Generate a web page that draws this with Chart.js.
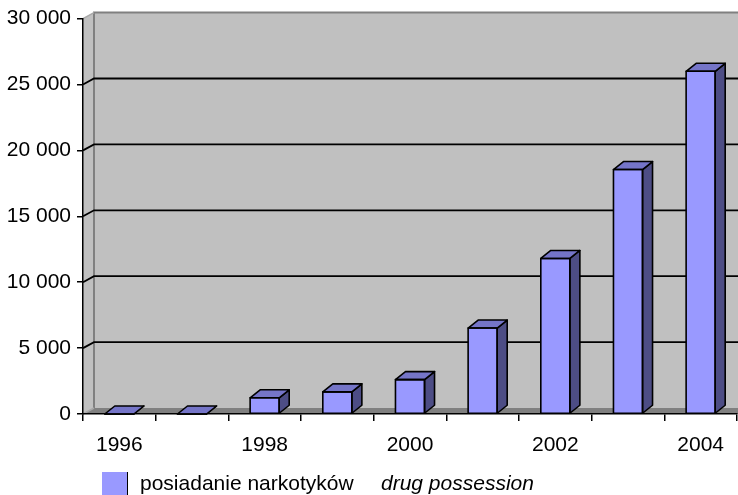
<!DOCTYPE html>
<html>
<head>
<meta charset="utf-8">
<script src="https://cdn.jsdelivr.net/npm/chart.js@4/dist/chart.umd.min.js"></script>
<style>
  html, body { margin: 0; padding: 0; background: #fff; }
  #wrap { position: relative; width: 738px; height: 495px; overflow: hidden; }
  #c { position: absolute; left: 0; top: 0; }
  #legend { position: absolute; left: 102px; top: 472px; height: 23px; font-family: "Liberation Sans", Arial, sans-serif; font-size: 21px; line-height: 21px; color: #000; white-space: nowrap; }
  #legend .sw { position: absolute; left: 0; top: 0; width: 25px; height: 26px; border-right: 1.5px solid #000; }
  #legend .pl { position: absolute; left: 38px; top: 0; }
  #legend .en { position: absolute; left: 279px; top: 0; font-style: italic; }
</style>
</head>
<body>
<div id="wrap">
  <canvas id="c" width="738" height="495"></canvas>
  <div id="legend"><span class="sw"></span><span class="pl"></span><span class="en"></span></div>
</div>
<script>
const categories = ['1996', '1997', '1998', '1999', '2000', '2001', '2002', '2003', '2004'];
const possessionValues = [0, 0, 1230, 1680, 2610, 6520, 11800, 18550, 26000];
const yTickValues = [0, 5000, 10000, 15000, 20000, 25000, 30000];
const seriesLabelPl = 'posiadanie narkotyków';
const seriesLabelEn = 'drug possession';

const FONT = '"Liberation Sans", Arial, sans-serif';
const FRONT = '#9999FF', TOP = '#7575C8', SIDE = '#4D4D85';

function fmt(v) { return String(v).replace(/\B(?=(\d{3})+(?!\d))/g, ' '); }

const threeD = {
  id: 'threeD',
  beforeDraw(chart) {
    const ctx = chart.ctx;
    const { left, right, top, bottom } = chart.chartArea;
    const W = chart.width;
    const dx = 11, dy = -6;
    const ys = chart.scales.y;
    ctx.save();
    // back wall
    ctx.fillStyle = '#C0C0C0';
    ctx.fillRect(left + dx, top + dy, W - (left + dx), bottom - top);
    // left wall
    ctx.beginPath();
    ctx.moveTo(left, top); ctx.lineTo(left + dx, top + dy);
    ctx.lineTo(left + dx, bottom + dy); ctx.lineTo(left, bottom);
    ctx.closePath(); ctx.fill();
    // floor
    ctx.fillStyle = '#808080';
    ctx.beginPath();
    ctx.moveTo(left, bottom); ctx.lineTo(left + dx, bottom + dy);
    ctx.lineTo(W, bottom + dy); ctx.lineTo(W, bottom);
    ctx.closePath(); ctx.fill();
    // edges
    ctx.strokeStyle = '#808080'; ctx.lineWidth = 2;
    ctx.beginPath();
    ctx.moveTo(left + dx, bottom + dy); ctx.lineTo(left + dx, top + dy); ctx.lineTo(W, top + dy);
    ctx.stroke();
    ctx.strokeStyle = '#A8A8A8'; ctx.lineWidth = 1.5;
    ctx.beginPath();
    ctx.moveTo(left, top); ctx.lineTo(left + dx, top + dy);
    ctx.moveTo(left, bottom); ctx.lineTo(left + dx, bottom + dy);
    ctx.stroke();
    // gridlines on walls
    ctx.strokeStyle = '#000'; ctx.lineWidth = 1.8;
    yTickValues.forEach(v => {
      if (v <= ys.min || v >= ys.max) return;
      const yy = ys.getPixelForValue(v);
      ctx.beginPath();
      ctx.moveTo(left, yy); ctx.lineTo(left + dx, yy + dy); ctx.lineTo(W, yy + dy);
      ctx.stroke();
    });
    ctx.restore();
  },
  afterDatasetsDraw(chart) {
    const ctx = chart.ctx;
    const meta = chart.getDatasetMeta(0);
    const bdx = 10, bdy = -8;
    ctx.save();
    ctx.strokeStyle = '#000'; ctx.lineWidth = 1.6; ctx.lineJoin = 'round';
    meta.data.forEach(el => {
      const p = el.getProps(['x', 'y', 'base', 'width'], true);
      const L = p.x - p.width / 2, R = p.x + p.width / 2, T = p.y, B = p.base;
      // side
      ctx.fillStyle = SIDE;
      ctx.beginPath();
      ctx.moveTo(R, T); ctx.lineTo(R + bdx, T + bdy); ctx.lineTo(R + bdx, B + bdy); ctx.lineTo(R, B);
      ctx.closePath(); ctx.fill(); ctx.stroke();
      // top
      ctx.fillStyle = TOP;
      ctx.beginPath();
      ctx.moveTo(L, T); ctx.lineTo(L + bdx, T + bdy); ctx.lineTo(R + bdx, T + bdy); ctx.lineTo(R, T);
      ctx.closePath(); ctx.fill(); ctx.stroke();
      // front outline
      ctx.strokeRect(L, T, p.width, B - T);
    });
    ctx.restore();
  }
};

const chart = new Chart(document.getElementById('c'), {
  type: 'bar',
  data: {
    labels: categories,
    datasets: [{
      label: seriesLabelPl,
      data: possessionValues,
      backgroundColor: FRONT,
      borderColor: '#000',
      borderWidth: 0,
      barPercentage: 0.4,
      categoryPercentage: 1.0
    }]
  },
  options: {
    responsive: false,
    animation: false,
    layout: { padding: { left: 0, right: 1, top: 15, bottom: 0 } },
    plugins: { legend: { display: false }, tooltip: { enabled: false } },
    scales: {
      x: {
        grid: { offset: true, drawOnChartArea: false, drawTicks: true, tickLength: 7, color: '#000', lineWidth: 1.5 },
        border: { display: true, color: '#000', width: 1.5 },
        ticks: {
          autoSkip: false, maxRotation: 0, minRotation: 0, color: '#000', padding: 12,
          font: { size: 21, family: FONT },
          callback: (v, i) => (i % 2 === 0 ? categories[i] : '')
        },
        afterFit: s => { s.height = 81; }
      },
      y: {
        min: 0, max: 30000,
        afterBuildTicks: s => { s.ticks = yTickValues.map(v => ({ value: v })); },
        grid: { drawOnChartArea: false, drawTicks: true, tickLength: 6, color: '#000', lineWidth: 1.5 },
        border: { display: true, color: '#000', width: 1.5 },
        ticks: { color: '#000', padding: 6, font: { size: 21, family: FONT }, callback: v => fmt(v) },
        afterFit: s => { s.width = 83; }
      }
    }
  },
  plugins: [threeD]
});

const lg = document.getElementById('legend');
lg.querySelector('.sw').style.background = chart.data.datasets[0].backgroundColor;
lg.querySelector('.pl').textContent = seriesLabelPl;
lg.querySelector('.en').textContent = seriesLabelEn;
</script>
</body>
</html>
